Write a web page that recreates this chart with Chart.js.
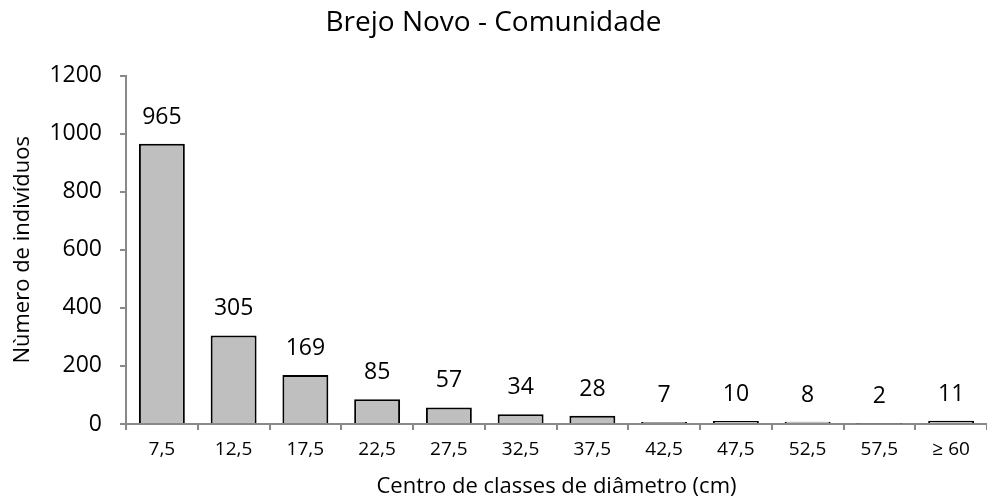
<!DOCTYPE html>
<html>
<head>
<meta charset="utf-8">
<script src="https://cdn.jsdelivr.net/npm/chart.js@4/dist/chart.umd.min.js"></script>
<style>
  html, body { margin: 0; padding: 0; background: #fff; }
  #wrap { width: 987px; height: 503px; }
</style>
</head>
<body>
<div id="wrap"><canvas id="grafico"></canvas></div>
<script>
const classes = ['7,5', '12,5', '17,5', '22,5', '27,5', '32,5', '37,5', '42,5', '47,5', '52,5', '57,5', '≥ 60'];
const individuos = [965, 305, 169, 85, 57, 34, 28, 7, 10, 8, 2, 11];
const yTicks = [0, 200, 400, 600, 800, 1000, 1200];

const fonte = '"Open Sans", sans-serif';
const cinzaEixo = '#898989';

// rótulos em cima das barras
const rotulos = {
    id: 'rotulos',
    afterDatasetsDraw(chart) {
        const ctx = chart.ctx;
        const meta = chart.getDatasetMeta(0);
        ctx.save();
        ctx.font = '23px ' + fonte;
        ctx.fillStyle = '#000';
        ctx.textAlign = 'center';
        ctx.textBaseline = 'alphabetic';
        meta.data.forEach((bar, i) => {
            ctx.fillText(String(individuos[i]), bar.x, bar.y - 20);
        });
        ctx.restore();
    }
};

new Chart(document.getElementById('grafico'), {
    type: 'bar',
    data: {
        labels: classes,
        datasets: [{
            data: individuos,
            backgroundColor: '#bfbfbf',
            borderColor: '#000',
            borderWidth: 2,
            barPercentage: 0.64,
            categoryPercentage: 1
        }]
    },
    options: {
        responsive: true,
        maintainAspectRatio: false,
        animation: false,
        layout: { padding: 0 },
        plugins: {
            legend: { display: false },
            tooltip: { enabled: false },
            title: {
                display: true,
                text: 'Brejo Novo - Comunidade',
                color: '#000',
                font: { family: fonte, size: 28, weight: 'normal' },
                padding: { top: 6, bottom: 36 }
            }
        },
        scales: {
            x: {
                grid: { display: true, drawOnChartArea: false, tickLength: 6, offset: true, color: cinzaEixo, lineWidth: 2 },
                border: { color: cinzaEixo, width: 2 },
                ticks: { color: '#000', font: { family: fonte, size: 19 }, padding: 8, maxRotation: 0 },
                title: {
                    display: true,
                    text: 'Centro de classes de diâmetro (cm)',
                    color: '#000',
                    font: { family: fonte, size: 22 },
                    padding: { top: 0, bottom: 3 }
                },
                afterFit: s => { s.height = 79; }
            },
            y: {
                min: 0,
                max: 1200,
                afterBuildTicks: s => { s.ticks = yTicks.map(v => ({ value: v })); },
                grid: { display: true, drawOnChartArea: false, tickLength: 6, color: cinzaEixo, lineWidth: 2 },
                border: { color: cinzaEixo, width: 2 },
                ticks: { color: '#000', font: { family: fonte, size: 23 }, padding: 18, callback: v => String(v) },
                title: {
                    display: true,
                    text: 'Nùmero de indivíduos',
                    color: '#000',
                    font: { family: fonte, size: 22 },
                    padding: { top: 10, bottom: 0 }
                },
                afterFit: s => { s.width = 126; }
            }
        }
    },
    plugins: [rotulos]
});
</script>
</body>
</html>
